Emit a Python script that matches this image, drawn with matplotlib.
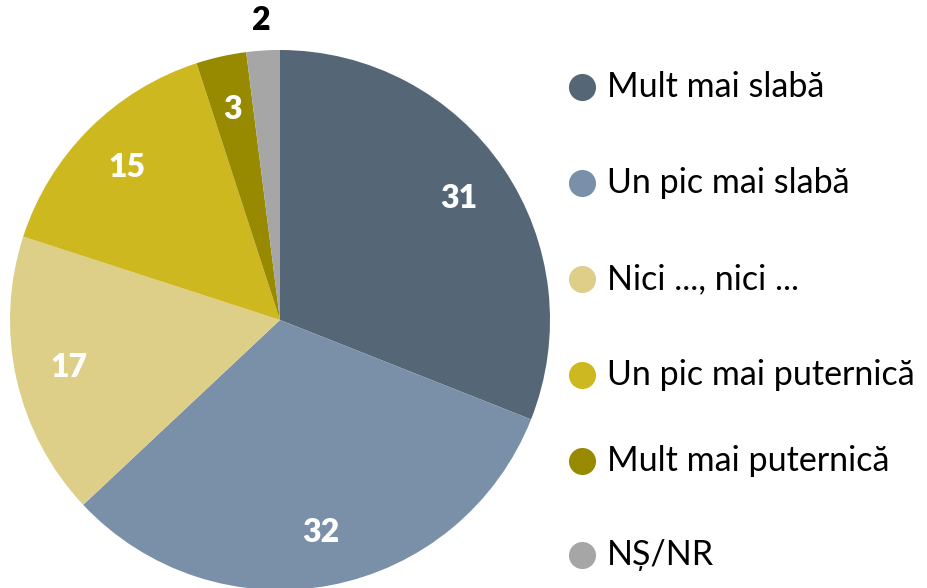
import numpy as np
import matplotlib
matplotlib.use('Agg')
import matplotlib.pyplot as plt

plt.rcParams['font.family'] = ['Lato', 'DejaVu Sans']

# data
categories = ['Mult mai slabă', 'Un pic mai slabă', 'Nici ..., nici ...',
              'Un pic mai puternică', 'Mult mai puternică', 'NȘ/NR']
values = [31, 32, 17, 15, 3, 2]
colors = ['#556677', '#7990a8', '#ddcf88', '#cdb820', '#978a00', '#a6a6a6']

W, H = 928, 588
fig = plt.figure(figsize=(W / 100, H / 100), dpi=100)

# pie axes: centre ~ (280, 320) px, radius ~ 270 px
r_px = 270
cx, cy = 280, 320
ax = fig.add_axes([(cx - r_px) / W, (H - cy - r_px) / H, 2 * r_px / W, 2 * r_px / H])
wedges, _ = ax.pie(values, colors=colors, startangle=90, counterclock=False,
                   radius=1, wedgeprops=dict(linewidth=0))
ax.set_xlim(-1, 1)
ax.set_ylim(-1, 1)
ax.set_aspect('equal')
ax.axis('off')

# value labels
for w, v in zip(wedges, values):
    ang = np.deg2rad((w.theta1 + w.theta2) / 2)
    if v < 3:
        d, col = 1.11, 'black'
    else:
        d, col = 0.8, 'white'
    ax.text(d * np.cos(ang), d * np.sin(ang), str(v), ha='center', va='center',
            fontsize=23, fontweight='heavy', color=col, clip_on=False)

# legend drawn by hand (uneven spacing in reference)
lax = fig.add_axes([0, 0, 1, 1])
lax.set_xlim(0, W)
lax.set_ylim(H, 0)
lax.axis('off')
leg_y = [87, 183, 279, 375, 461, 555]
for y, c, lab in zip(leg_y, colors, categories):
    lax.scatter([582], [y], s=380, color=c, linewidths=0)
    lax.text(607, y, lab, ha='left', va='center', fontsize=24.5, color='black')

fig.savefig('out.png', dpi=100)
